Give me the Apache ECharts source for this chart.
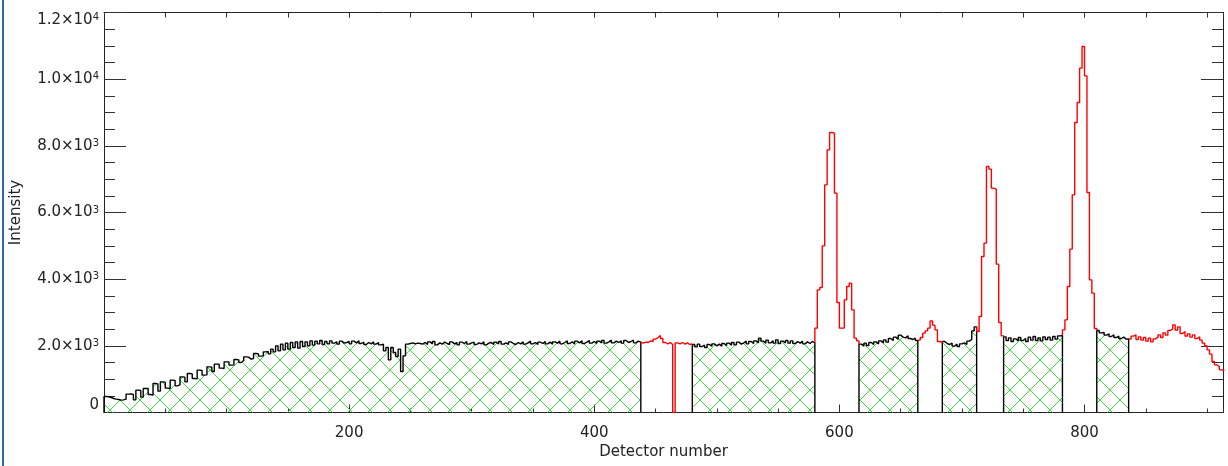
<!DOCTYPE html>
<html>
<head>
<meta charset="utf-8">
<title>Detector intensity</title>
<script src="https://cdn.jsdelivr.net/npm/echarts@6.0.0/dist/echarts.min.js"></script>
<style>
    html, body { margin: 0; padding: 0; background: #fff; }
    #wrap { position: relative; width: 1228px; height: 466px; }
    #main { width: 1228px; height: 466px; }
    #edge { position: absolute; left: 2px; top: 0; width: 2px; height: 466px; background: #2a70a8; }
</style>
</head>
<body>
<div id="wrap">
    <div id="main"></div>
    <div id="edge"></div>
</div>
<script>
(function () {
    "use strict";

    // channels are grouped in bins of 2 detectors
    var BIN = 2;
    var X_MAX = 913;
    var Y_MAX = 12000;
    var xTicks = [200, 400, 600, 800];
    var yTicks = [0, 2000, 4000, 6000, 8000, 10000, 12000];

    // good (fitted) regions: black line + green hatch
    var segA = [ // detector 0 - 437
        480, 470, 450, 420, 400, 390, 370, 380, 400, 550,
        560, 540, 380, 670, 660, 460, 720, 720, 540, 520,
        870, 860, 640, 920, 910, 730, 720, 970, 960, 800,
        830, 1070, 1060, 920, 1170, 1160, 1020, 1010, 1270, 1260,
        1120, 1130, 1370, 1360, 1230, 1450, 1450, 1330, 1320, 1520,
        1520, 1420, 1430, 1590, 1580, 1500, 1560, 1670, 1660, 1600,
        1620, 1770, 1760, 1690, 1700, 1820, 1830, 1760, 1900, 1820,
        2000, 1850, 2050, 1880, 2080, 1900, 2100, 1950, 2120, 1930,
        2130, 1980, 2120, 2000, 2150, 2020, 2140, 2060, 2160, 2040,
        2130, 2060, 2150, 2080, 2120, 2050, 2140, 2080, 2100, 2130,
        2060, 2140, 2090, 2150, 2070, 2110, 2040, 2100, 2060, 2120,
        2050, 2100, 2030, 2050, 1850, 1950, 1580, 1950, 1800, 1680,
        1900, 1230, 1700, 2050, 2070, 2090, 2060, 2080, 2070, 2050,
        2100, 2040, 2120, 2060, 2130, 2030, 2090, 2050, 2110, 2070,
        2040, 2120, 2060, 2100, 2030, 2110, 2070, 2130, 2050, 2090,
        2110, 2040, 2090, 2060, 2120, 2030, 2080, 2100, 2040, 2110,
        2060, 2130, 2050, 2090, 2040, 2120, 2070, 2040, 2100, 2060,
        2120, 2050, 2090, 2140, 2060, 2100, 2040, 2110, 2070, 2130,
        2060, 2110, 2050, 2120, 2080, 2140, 2060, 2100, 2150, 2070,
        2120, 2060, 2140, 2090, 2150, 2070, 2110, 2160, 2080, 2130,
        2070, 2140, 2090, 2160, 2080, 2120, 2170, 2090, 2140, 2100,
        2150, 2080, 2160, 2100, 2130, 2170, 2090, 2140, 2110
    ];
    var segC = [ // 480 - 579
        2040, 1970, 2050, 1980, 2020, 1950, 2040, 1990, 2060, 2000,
        2050, 1990, 2070, 2010, 2080, 2020, 2100, 2030, 2110, 2050,
        2090, 2140, 2060, 2130, 2070, 2150, 2090, 2230, 2140, 2080,
        2170, 2090, 2150, 2080, 2180, 2070, 2140, 2090, 2160, 2080,
        2150, 2070, 2130, 2080, 2140, 2060, 2120, 2070, 2130, 2090
    ];
    var segE = [ // 616 - 663
        2050, 1990, 2080, 2010, 2100, 2040, 2120, 2060, 2150, 2090,
        2180, 2110, 2220, 2160, 2260, 2200, 2320, 2260, 2240, 2300,
        2220, 2190, 2230, 2160
    ];
    var segG = [ // 684 - 711
        2130, 2070, 2040, 2080, 1990, 2050, 1980, 2060, 2090, 2040,
        2140, 2190, 2450, 2570
    ];
    var segI = [ // 734 - 781
        2270, 2160, 2240, 2130, 2210, 2150, 2250, 2160, 2220, 2130,
        2260, 2170, 2280, 2160, 2240, 2150, 2270, 2190, 2260, 2170,
        2280, 2200, 2300, 2310
    ];
    var segK = [ // 810 - 835
        2460, 2390, 2400, 2320, 2360, 2280, 2330, 2250, 2290, 2220,
        2260, 2200, 2210
    ];

    // excluded regions: red line
    var segB = [ // 438 - 479 (dead channel at 464)
        2080, 2110, 2100, 2150, 2130, 2200, 2250, 2310, 2220, 2100,
        2060, 2100, 2040, 0, 2090, 2060, 2100, 2050, 2090, 2040,
        2060
    ];
    var segD = [ // 580 - 615
        2530, 3680, 3750, 5000, 6830, 7880, 8400, 8380, 6580, 3300,
        2530, 2530, 3380, 3780, 3880, 3080, 2230, 2150
    ];
    var segF = [ // 664 - 683
        2180, 2250, 2380, 2450, 2530, 2750, 2620, 2480, 2130, 2100
    ];
    var segH = [ // 712 - 733
        2430, 2880, 4680, 5080, 7380, 7300, 6730, 6700, 4450, 2700,
        2300
    ];
    var segJ = [ // 782 - 809
        2480, 2780, 3780, 4900, 6530, 8700, 9300, 10330, 10980, 10100,
        6600, 3980, 3580, 2520
    ];
    var segL = [ // 836 - 913
        2200, 2290, 2330, 2190, 2270, 2170, 2250, 2140, 2230, 2120,
        2210, 2260, 2330, 2250, 2390, 2320, 2460, 2510, 2630, 2470,
        2570, 2370, 2430, 2290, 2360, 2260, 2330, 2220, 2270, 2170,
        2080, 2000, 1880, 1750, 1530, 1430, 1380, 1280, 1260
    ];

    var segments = [
        { start: 0, values: segA, good: true },
        { start: 438, values: segB, good: false },
        { start: 480, values: segC, good: true },
        { start: 580, values: segD, good: false },
        { start: 616, values: segE, good: true },
        { start: 664, values: segF, good: false },
        { start: 684, values: segG, good: true },
        { start: 712, values: segH, good: false },
        { start: 734, values: segI, good: true },
        { start: 782, values: segJ, good: false },
        { start: 810, values: segK, good: true },
        { start: 836, values: segL, good: false }
    ];

    // green cross hatch tile
    var tile = document.createElement('canvas');
    tile.width = 20;
    tile.height = 20;
    var ctx = tile.getContext('2d');
    ctx.strokeStyle = '#3ee23e';
    ctx.lineWidth = 1;
    ctx.beginPath();
    ctx.moveTo(-2, -2); ctx.lineTo(22, 22);
    ctx.moveTo(22, -2); ctx.lineTo(-2, 22);
    ctx.stroke();

    function toSteps(seg, idx) {
        var pts = [];
        var n = seg.values.length;
        var end = seg.start + n * BIN;
        var prev = segments[idx - 1];
        var next = segments[idx + 1];
        if (seg.good) {
            pts.push([seg.start, 0]);
        } else if (prev) {
            // climb out of the neighbouring good region
            pts.push([seg.start, prev.values[prev.values.length - 1]]);
        }
        for (var i = 0; i < n; i++) {
            pts.push([seg.start + i * BIN, seg.values[i]]);
        }
        pts.push([end, seg.values[n - 1]]);
        if (seg.good) {
            pts.push([end, 0]);
        } else if (next) {
            pts.push([end, next.values[0]]);
        }
        return pts;
    }

    var series = segments.map(function (seg, idx) {
        var s = {
            type: 'line',
            step: 'end',
            xAxisIndex: 0,
            yAxisIndex: 0,
            data: toSteps(seg, idx),
            symbol: 'none',
            silent: true,
            z: seg.good ? 2 : 3,
            lineStyle: { color: seg.good ? '#000' : '#ff0000', width: 1.4 }
        };
        if (seg.good) {
            s.areaStyle = { color: { image: tile, repeat: 'repeat' }, opacity: 1 };
        }
        return s;
    });

    var font = 'DejaVu Sans';
    var textColor = '#222';
    var lineColor = '#222';

    function xAxisDef(pos, interval, tickLen, main) {
        return {
            type: 'value',
            position: pos,
            min: 0,
            max: X_MAX,
            interval: interval,
            axisLine: { show: main, onZero: false, lineStyle: { color: lineColor, width: 1 } },
            axisTick: { show: true, inside: true, length: tickLen, lineStyle: { color: '#333' } },
            axisLabel: {
                show: main && pos === 'bottom',
                margin: 13,
                fontFamily: font,
                fontSize: 15,
                color: textColor,
                showMinLabel: false,
                showMaxLabel: false,
                formatter: function (v) {
                    return xTicks.indexOf(v) >= 0 ? String(v) : '';
                }
            },
            splitLine: { show: false }
        };
    }

    function yAxisDef(pos, labels) {
        return {
            type: 'value',
            position: pos,
            min: yTicks[0],
            max: Y_MAX,
            interval: 2000,
            axisLine: { show: true, onZero: false, lineStyle: { color: lineColor, width: 1 } },
            axisTick: { show: true, inside: true, length: 22, lineStyle: { color: '#333' } },
            minorTick: { show: true, splitNumber: 4, length: 11, lineStyle: { color: '#333' } },
            splitLine: { show: false },
            minorSplitLine: { show: false },
            axisLabel: {
                show: labels,
                margin: 5,
                color: textColor,
                verticalAlignMaxLabel: 'top',
                verticalAlignMinLabel: 'bottom',
                formatter: function (v) {
                    if (v === 0) return '{m|0}';
                    var exp = Math.floor(Math.log10(v) + 1e-9);
                    var mant = (v / Math.pow(10, exp)).toFixed(1);
                    return '{m|' + mant + '×10}{e|' + exp + '}';
                },
                rich: {
                    m: { fontFamily: font, fontSize: 15, color: textColor },
                    e: { fontFamily: font, fontSize: 10, color: textColor, verticalAlign: 'top', padding: [0, 0, 4, 0] }
                }
            }
        };
    }

    var xAxes = [
        xAxisDef('bottom', 200, 8, true),
        xAxisDef('bottom', 50, 4, false),
        xAxisDef('top', 200, 5, true),
        xAxisDef('top', 50, 5, false)
    ];
    xAxes[0].name = 'Detector number';
    xAxes[0].nameLocation = 'middle';
    xAxes[0].nameGap = 32;
    xAxes[0].nameMoveOverlap = false;
    xAxes[0].nameTextStyle = { fontFamily: font, fontSize: 15, color: textColor };

    var yAxes = [yAxisDef('left', true), yAxisDef('right', false)];
    yAxes[0].name = 'Intensity';
    yAxes[0].nameLocation = 'middle';
    yAxes[0].nameGap = 80;
    yAxes[0].nameMoveOverlap = false;
    yAxes[0].nameTextStyle = { fontFamily: font, fontSize: 15, color: textColor };

    var myChart = echarts.init(document.getElementById('main'), null, { renderer: 'canvas' });
    var option = {
        animation: false,
        backgroundColor: '#fff',
        grid: {
            left: 104,
            right: 5,
            top: 12.5,
            bottom: 53.5,
            containLabel: false,
            outerBoundsMode: 'none'
        },
        xAxis: xAxes,
        yAxis: yAxes,
        series: series
    };
    myChart.setOption(option);
    window.myChart = myChart;
})();
</script>
</body>
</html>
